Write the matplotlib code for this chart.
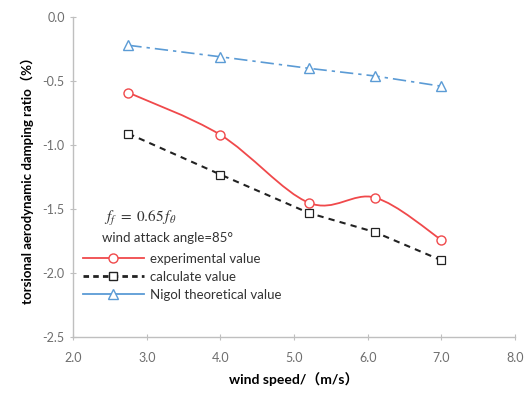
import matplotlib
matplotlib.use("Agg")
import matplotlib.pyplot as plt
from matplotlib.path import Path
from matplotlib.patches import PathPatch
from matplotlib.lines import Line2D

plt.rcParams['font.family'] = ['Lato', 'Noto Sans CJK SC', 'DejaVu Sans']
plt.rcParams['mathtext.fontset'] = 'stix'

wind_speed = [2.75, 4.0, 5.2, 6.1, 7.0]
experimental = [-0.59, -0.92, -1.45, -1.41, -1.74]
calculate = [-0.91, -1.23, -1.53, -1.68, -1.90]
nigol = [-0.22, -0.31, -0.40, -0.46, -0.54]

xticks = [2.0, 3.0, 4.0, 5.0, 6.0, 7.0, 8.0]
yticks = [0.0, -0.5, -1.0, -1.5, -2.0, -2.5]

red = "#F0494B"
blue = "#5B9BD5"

fig = plt.figure(figsize=(5.26, 3.98), dpi=100)
ax = fig.add_axes([0.139, 0.153, 0.840, 0.804])


def smooth_path(xs, ys):
    # excel style smoothed line: cubic bezier through the points
    verts = [(xs[0], ys[0])]
    codes = [Path.MOVETO]
    n = len(xs)
    for i in range(n - 1):
        x0, y0 = (xs[i - 1], ys[i - 1]) if i > 0 else (xs[i], ys[i])
        x1, y1 = xs[i], ys[i]
        x2, y2 = xs[i + 1], ys[i + 1]
        x3, y3 = (xs[i + 2], ys[i + 2]) if i + 2 < n else (x2, y2)
        c1 = (x1 + (x2 - x0) / 6, y1 + (y2 - y0) / 6)
        c2 = (x2 - (x3 - x1) / 6, y2 - (y3 - y1) / 6)
        verts += [c1, c2, (x2, y2)]
        codes += [Path.CURVE4] * 3
    return Path(verts, codes)


ax.add_patch(PathPatch(smooth_path(wind_speed, experimental), fill=False,
                       edgecolor=red, lw=1.3, zorder=3))
ax.plot(wind_speed, experimental, ls="none", marker="o", ms=6.5, mfc="white",
        mec=red, mew=1.0, zorder=4)
ax.plot(wind_speed, calculate, color="#222222", ls=(0, (3, 2.5)), lw=1.5,
        marker="s", ms=5.5, mfc="white", mec="#222222", mew=0.9, zorder=4)
ax.plot(wind_speed, nigol, color=blue, ls=(0, (8, 3, 2, 3)), lw=1.2,
        marker="^", ms=6.5, mfc="white", mec=blue, mew=1.0, zorder=4)

ax.set_xlim(2.0, 8.0)
ax.set_ylim(-2.5, 0.0)
ax.set_xticks(xticks)
ax.set_yticks(yticks)
ax.set_xticklabels([f"{v:.1f}" for v in xticks])
ax.set_yticklabels([f"{v:.1f}" for v in yticks])
ax.tick_params(colors="#BFBFBF", labelcolor="#6E6E6E", labelsize=9,
               direction="inout", length=5, width=0.8)
ax.tick_params(axis="x", pad=8)
for s in ["top", "right"]:
    ax.spines[s].set_visible(False)
for s in ["left", "bottom"]:
    ax.spines[s].set_color("#BFBFBF")
    ax.spines[s].set_linewidth(1.0)

ax.set_xlabel("wind speed/（m/s）", fontsize=10, fontweight="bold", labelpad=6)
ax.set_ylabel("torsional aerodynamic damping ratio（%）", fontsize=9.5,
              fontweight="bold", labelpad=6)

ax.text(0.07, 0.37, r"$f_f\ =\ 0.65\,f_\theta$", transform=ax.transAxes,
        fontsize=11, color="#333333", ha="left", va="center")
ax.text(0.065, 0.31, "wind attack angle=85°", transform=ax.transAxes,
        fontsize=9.5, color="#333333", ha="left", va="center")

handles = [
    Line2D([], [], color=red, lw=1.3, marker="o", ms=6.5, mfc="white", mec=red),
    Line2D([], [], color="#222222", lw=2.0, ls=(0, (2, 1.5)), marker="s",
           ms=5.5, mfc="white", mec="#222222"),
    Line2D([], [], color=blue, lw=1.3, marker="^", ms=6.5, mfc="white", mec=blue),
]
labels = ["experimental value", "calculate value", "Nigol theoretical value"]
ax.legend(handles, labels, loc="upper left", bbox_to_anchor=(0.01, 0.28),
          frameon=False, fontsize=9.5, handlelength=4.6, handletextpad=0.5,
          labelspacing=0.45, borderaxespad=0, labelcolor="#333333")

fig.savefig("out.png", dpi=100)
